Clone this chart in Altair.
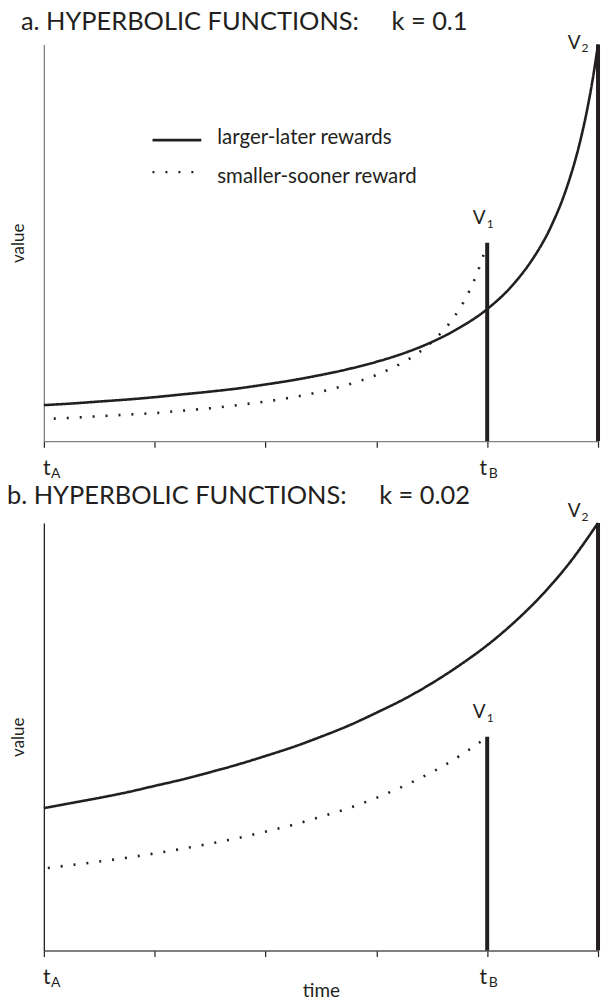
import altair as alt
import pandas as pd

FONT = "Lato"
INK = "#231f20"

# delay axis: t_A at 0, the smaller-sooner reward at 80, the larger-later reward at 100
tick_times = [0, 20, 40, 60, 80, 100]

# panel a (k = 0.1): discounted value of each reward seen from each moment
ll_time_a = [0, 5, 10, 15, 20, 25, 30, 35, 40, 45, 50, 55, 60, 65, 70, 75, 80, 85, 88,
             90, 91, 92, 93, 94, 95, 96, 97, 98, 99, 100]
ll_value_a = [0.091, 0.095, 0.100, 0.105, 0.111, 0.118, 0.125, 0.133, 0.143, 0.154,
              0.167, 0.182, 0.200, 0.222, 0.250, 0.286, 0.333, 0.400, 0.455,
              0.500, 0.526, 0.556, 0.588, 0.625, 0.667, 0.714, 0.769, 0.833, 0.909, 1.000]
ss_time_a = [0, 5, 10, 15, 20, 25, 30, 35, 40, 45, 50, 55, 60, 62, 65, 67, 70, 72, 73,
             74, 75, 76, 77, 78, 79, 80]
ss_value_a = [0.056, 0.059, 0.063, 0.067, 0.071, 0.077, 0.083, 0.091, 0.100, 0.111,
              0.125, 0.143, 0.167, 0.179, 0.200, 0.217, 0.250, 0.278, 0.294,
              0.313, 0.333, 0.357, 0.385, 0.417, 0.455, 0.500]

# panel b (k = 0.02)
ll_time_b = [0, 5, 10, 15, 20, 25, 30, 35, 40, 45, 50, 55, 60, 65, 70, 75, 80, 85, 90, 95, 100]
ll_value_b = [0.333, 0.345, 0.357, 0.370, 0.385, 0.400, 0.417, 0.435, 0.455, 0.476,
              0.500, 0.526, 0.556, 0.588, 0.625, 0.667, 0.714, 0.769, 0.833, 0.909, 1.000]
ss_time_b = [0, 5, 10, 15, 20, 25, 30, 35, 40, 45, 50, 55, 60, 65, 70, 72, 75, 77, 78, 79, 80]
ss_value_b = [0.192, 0.200, 0.208, 0.217, 0.227, 0.238, 0.250, 0.263, 0.278, 0.294,
              0.313, 0.333, 0.357, 0.385, 0.417, 0.431, 0.455, 0.472, 0.481, 0.490, 0.500]

# the two rewards (V1 sooner, V2 later) and the two marked moments on the time axis
reward_time = [80, 100]
reward_value = [0.5, 1.0]
reward_sub = ["1", "2"]
marker_time = [0, 80]
marker_sub = ["A", "B"]
series_names = ["larger-later rewards", "smaller-sooner reward"]

W = 556
x_scale = alt.Scale(domain=[0, 100], nice=False, zero=False)
y_scale = alt.Scale(domain=[0, 1], nice=False, zero=True)


def curves_frame(ll_t, ll_v, ss_t, ss_v):
    a = pd.DataFrame({"time": ll_t, "value": ll_v, "series": series_names[0]})
    b = pd.DataFrame({"time": ss_t, "value": ss_v, "series": series_names[1]})
    return pd.concat([a, b], ignore_index=True)


def text_layer(df, text_field, size, dx, dy, align="center"):
    return alt.Chart(df).mark_text(
        font=FONT, fontSize=size, color=INK, align=align, baseline="alphabetic", dx=dx, dy=dy
    ).encode(
        x=alt.X("time:Q", scale=x_scale),
        y=alt.Y("value:Q", scale=y_scale),
        text=f"{text_field}:N",
    )


def panel(title, height, ll_t, ll_v, ss_t, ss_v, dash_offset, title_dx, title_offset,
          y_dom_color, x_dom_color, v2_dy, x_title, legend):
    curves = curves_frame(ll_t, ll_v, ss_t, ss_v)
    rewards = pd.DataFrame({"time": reward_time, "value": reward_value, "sub": reward_sub, "main": ["V", "V"]})
    markers = pd.DataFrame({"time": marker_time, "value": [0, 0], "sub": marker_sub, "main": ["t", "t"]})

    x_axis = alt.Axis(
        values=tick_times, labels=False, grid=False, tickSize=6, tickColor=INK, tickWidth=1.2,
        domainColor=x_dom_color, domainWidth=1.3,
        title=x_title if x_title else None,
        titleFont=FONT, titleFontSize=19, titleFontWeight="normal", titleColor=INK, titlePadding=25,
    )
    y_axis = alt.Axis(
        labels=False, ticks=False, grid=False, domainColor=y_dom_color, domainWidth=1.3,
        title="value", titleFont=FONT, titleFontSize=17, titleFontWeight="normal",
        titleColor=INK, titlePadding=16,
    )

    lines = alt.Chart(curves).mark_line(
        color=INK, strokeWidth=2.6, interpolate="monotone", strokeDashOffset=dash_offset
    ).encode(
        x=alt.X("time:Q", scale=x_scale, axis=x_axis),
        y=alt.Y("value:Q", scale=y_scale, axis=y_axis),
        strokeDash=alt.StrokeDash(
            "series:N", scale=alt.Scale(domain=series_names, range=[[1, 0], [2, 11]]), legend=None
        ),
        detail="series:N",
    )

    bars = alt.Chart(rewards).mark_rule(color=INK, strokeWidth=4).encode(
        x=alt.X("time:Q", scale=x_scale),
        y=alt.Y("value:Q", scale=y_scale),
        y2=alt.datum(0),
    )

    v1 = rewards[rewards["time"] == 80]
    v2 = rewards[rewards["time"] == 100]
    ta = markers[markers["time"] == 0]
    tb = markers[markers["time"] == 80]

    layers = [
        lines, bars,
        text_layer(v1, "main", 19, -8, -19),
        text_layer(v1, "sub", 12, 3, -15),
        text_layer(v2, "main", 19, -24, v2_dy),
        text_layer(v2, "sub", 12, -13, v2_dy + 4),
        text_layer(ta, "main", 21, 3, 34),
        text_layer(ta, "sub", 14, 12, 37),
        text_layer(tb, "main", 21, -4, 34),
        text_layer(tb, "sub", 14, 6, 37),
    ]

    if legend:
        leg_rule_solid = alt.Chart(pd.DataFrame({"label": [series_names[0]]})).mark_rule(
            color=INK, strokeWidth=2.8
        ).encode(x=alt.value(109), x2=alt.value(158), y=alt.value(96))
        leg_rule_dots = alt.Chart(pd.DataFrame({"label": [series_names[1]]})).mark_rule(
            color=INK, strokeWidth=2.4, strokeDash=[2, 11]
        ).encode(x=alt.value(109), x2=alt.value(158), y=alt.value(128))
        leg_text_1 = alt.Chart(pd.DataFrame({"label": [series_names[0]]})).mark_text(
            font=FONT, fontSize=20.5, color=INK, align="left", baseline="middle"
        ).encode(x=alt.value(174), y=alt.value(94), text="label:N")
        leg_text_2 = alt.Chart(pd.DataFrame({"label": [series_names[1]]})).mark_text(
            font=FONT, fontSize=20.5, color=INK, align="left", baseline="middle"
        ).encode(x=alt.value(174), y=alt.value(133), text="label:N")
        layers += [leg_rule_solid, leg_rule_dots, leg_text_1, leg_text_2]

    return alt.layer(*layers).properties(
        width=W, height=height,
        title=alt.TitleParams(
            text=title, anchor="start", frame="group", dx=title_dx, offset=title_offset,
            font=FONT, fontSize=25.5, fontWeight="normal", color=INK,
        ),
    )


gap = "\u00a0" * 5
panel_a = panel(f"a. HYPERBOLIC FUNCTIONS:{gap}k = 0.1", 398,
                ll_time_a, ll_value_a, ss_time_a, ss_value_a,
                dash_offset=3, title_dx=-23, title_offset=-2,
                y_dom_color="#808080", x_dom_color="#808080", v2_dy=4, x_title=None, legend=True)
panel_b = panel(f"b. HYPERBOLIC FUNCTIONS:{gap}k = 0.02", 429,
                ll_time_b, ll_value_b, ss_time_b, ss_value_b,
                dash_offset=9, title_dx=-37, title_offset=-8,
                y_dom_color=INK, x_dom_color="#555555", v2_dy=-6, x_title="time", legend=False)

chart = alt.vconcat(panel_a, panel_b, spacing=82, bounds="flush").properties(
    padding={"left": 7, "top": 8, "right": 0, "bottom": 0}
).configure_view(stroke=None)

chart.save("out.html", embed_options={"renderer": "svg", "actions": False})
